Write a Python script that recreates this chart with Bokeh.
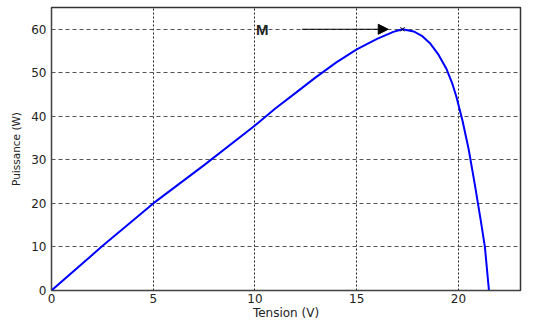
from bokeh.plotting import figure
from bokeh.models import Range1d, Label, Arrow, NormalHead, FixedTicker
from bokeh.embed import file_html
from bokeh.resources import INLINE

# Data
tension = [0, 2.5, 5, 7.5, 10, 11, 12, 13, 14, 15, 16, 16.8, 17.25, 17.8, 18.2, 18.6, 19, 19.4, 19.7,
           19.9, 20.2, 20.5, 20.8, 21.1, 21.3, 21.5]
puissance = [0, 10.2, 20, 28.8, 37.9, 41.8, 45.4, 49, 52.4, 55.4, 57.8, 59.4, 60, 59.5, 58.5, 56.8, 54.3,
             51, 47.5, 44.5, 39, 32.5, 24.5, 16, 10, 0]
x_ticks = [0, 5, 10, 15, 20]
y_ticks = [0, 10, 20, 30, 40, 50, 60]
mpp_v = [17.25]
mpp_p = [60]
label_text = "M"
arrow_start = [12.3, 60]
arrow_end = [16.55, 60]
label_pos = [10.05, 60]

FONT = "DejaVu Sans"

p = figure(width=535, height=323, output_backend="svg", toolbar_location=None,
           x_range=Range1d(0, 23.05), y_range=Range1d(0, 65),
           min_border_left=51, min_border_right=15, min_border_top=7, min_border_bottom=33)

p.line(tension, puissance, line_color="#0000ff", line_width=2)
p.scatter(mpp_v, mpp_p, marker="x", size=6, line_color="black", line_width=1)

p.add_layout(Arrow(end=NormalHead(size=10, fill_color="black", line_color="black"),
                   x_start=arrow_start[0], y_start=arrow_start[1],
                   x_end=arrow_end[0], y_end=arrow_end[1],
                   line_color="black", line_width=1.2))
p.add_layout(Label(x=label_pos[0], y=label_pos[1], text=label_text, text_baseline="middle",
                   text_font="Liberation Sans", text_font_size="15px", text_font_style="bold",
                   text_color="#222222"))

p.xaxis.ticker = FixedTicker(ticks=x_ticks)
p.yaxis.ticker = FixedTicker(ticks=y_ticks)
p.xaxis.axis_label = "Tension (V)"
p.yaxis.axis_label = "Puissance (W)"
for ax in (p.xaxis, p.yaxis):
    ax.major_label_text_font = FONT
    ax.major_label_text_font_size = "12px"
    ax.major_label_text_color = "#222222"
    ax.axis_label_text_font = FONT
    ax.axis_label_text_font_style = "normal"
    ax.axis_label_text_color = "#222222"
    ax.major_tick_in = 0
    ax.major_tick_out = 0
    ax.minor_tick_in = 0
    ax.minor_tick_out = 0
    ax.axis_line_color = "#444444"
p.xaxis.axis_label_text_font_size = "12px"
p.yaxis.axis_label_text_font_size = "10.5px"
p.xaxis.major_label_standoff = 3
p.xaxis.axis_label_standoff = 0
p.yaxis.major_label_standoff = 5
p.yaxis.axis_label_standoff = 6

p.xgrid.grid_line_color = "#222222"
p.xgrid.grid_line_dash = "2 2"
p.ygrid.grid_line_color = "#555555"
p.ygrid.grid_line_dash = "4 3"
p.outline_line_color = "#333333"
p.outline_line_width = 1.5
p.background_fill_color = "white"
p.border_fill_color = "white"

open("out.html", "w").write(file_html(p, INLINE))
